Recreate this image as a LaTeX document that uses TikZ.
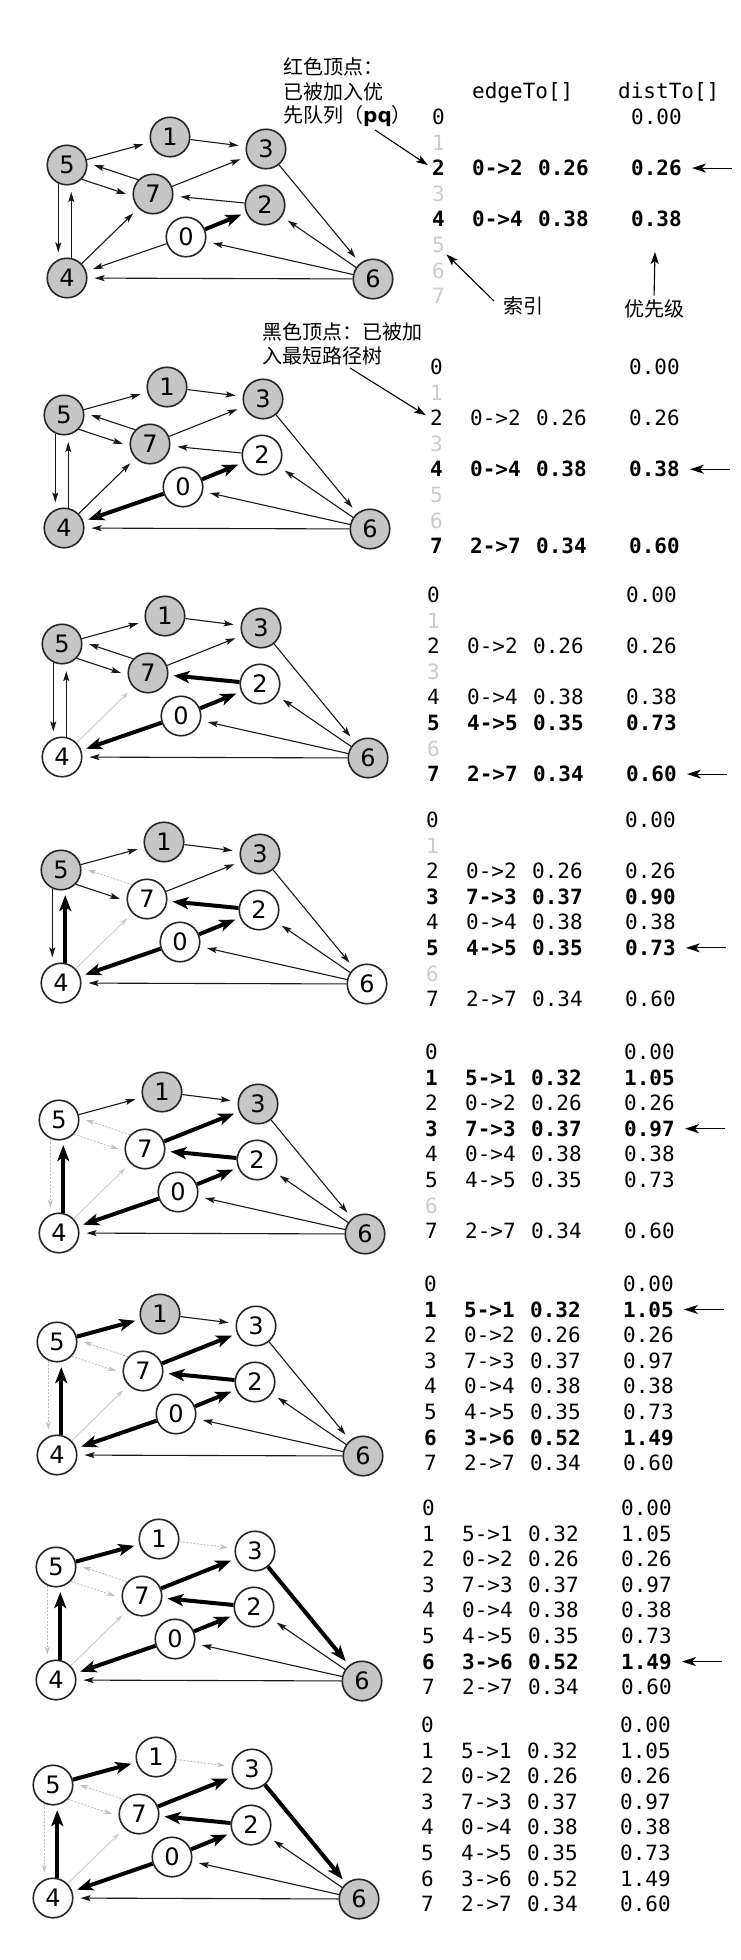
\documentclass[tikz,border=0pt]{standalone}
\usepackage{fontspec}
\setmainfont{DejaVu Sans}
\newfontfamily\monofont{DejaVu Sans Mono}
\newfontfamily\cjkfont{Noto Sans CJK SC}
\newfontfamily\labelfont{DejaVu Sans}
\usetikzlibrary{arrows.meta}

% one graph: #1 name prefix, #2/#3 centre of vertex 4
\newcommand\drawgraph[3]{%
 \begin{scope}[shift={(#2,#3)}]
  \node[vx,f0] (#1n0) at (119,-41) {0};
  \node[vx,f1] (#1n1) at (103,-141) {1};
  \node[vx,f2] (#1n2) at (198,-73) {2};
  \node[vx,f3] (#1n3) at (199,-129) {3};
  \node[vx,f4] (#1n4) at (0,0) {4};
  \node[vx,f5] (#1n5) at (0,-113) {5};
  \node[vx,f6] (#1n6) at (306,1) {6};
  \node[vx,f7] (#1n7) at (86,-84) {7};
  \draw[e51] (#1n5) -- (#1n1);
  \draw[e13] (#1n1) -- (#1n3);
  \draw[e57] (#1n5.-44) -- (#1n7.186);
  \draw[e75] (#1n7.136) -- (#1n5.6);
  \draw[e73] (#1n7) -- (#1n3);
  \draw[e27] (#1n2) -- (#1n7);
  \draw[e02] (#1n0) -- (#1n2);
  \draw[e04] (#1n0) -- (#1n4);
  \draw[e47] (#1n4) -- (#1n7);
  \draw[e54] (#1n5.-115) -- (#1n4.115);
  \draw[e45] (#1n4.78) -- (#1n5.-78);
  \draw[e36] (#1n3) -- (#1n6);
  \draw[e62] (#1n6) -- (#1n2);
  \draw[e60] (#1n6) -- (#1n0);
  \draw[e64] (#1n6) -- (#1n4);
 \end{scope}}

% table rows: #1 prefix, #2 index, #3 style, #4 edgeTo, #5 weight, #6 distTo
\newcommand\fullrow[6]{%
  \node[cell,#3] (#1i#2) at (0,#2*25.6) {#2};
  \node[cell,#3] (#1e#2) at (40,#2*25.6) {#4};
  \node[cell,#3] (#1w#2) at (106,#2*25.6) {#5};
  \node[cell,#3] (#1d#2) at (199,#2*25.6) {#6};}
\newcommand\emptyrow[2]{\node[cell,faint] (#1i#2) at (0,#2*25.6) {#2};}
\newcommand\rootrow[1]{%
  \node[cell] (#1i0) at (0,0) {0};
  \node[cell] (#1d0) at (199,0) {0.00};}
\newcommand\pick[2]{\draw[pickarrow] ([xshift=50pt]#1d#2.east) -- ([xshift=10pt]#1d#2.east);}

\begin{document}
\begin{tikzpicture}[x=1pt,y=-1pt,
  vx/.style={circle, draw=black!85, line width=1.6pt, minimum size=39.5pt, inner sep=0pt,
    font=\labelfont\fontsize{24pt}{24pt}\selectfont},
  onpq/.style={fill=gray!45},
  intree/.style={fill=white},
  norm/.style={line width=1.1pt, draw=black!90, -{Stealth[length=10pt,width=6pt,inset=2pt]},
    shorten >=7pt},
  tree/.style={line width=4pt, draw=black, -{Stealth[length=16pt,width=12pt,inset=4pt]},
    shorten >=5pt},
  faded/.style={line width=0.9pt, draw=gray!40, -{Stealth[length=8pt,width=5pt]}, shorten >=7pt},
  dim/.style={faded, draw=gray!50, dash pattern=on 2pt off 1.5pt},
  f0/.style=onpq, f1/.style=onpq, f2/.style=onpq, f3/.style=onpq,
  f4/.style=onpq, f5/.style=onpq, f6/.style=onpq, f7/.style=onpq,
  e51/.style=norm, e13/.style=norm, e57/.style=norm, e75/.style=norm, e73/.style=norm,
  e27/.style=norm, e02/.style=norm, e04/.style=norm, e47/.style=norm, e54/.style=norm,
  e45/.style=norm, e36/.style=norm, e62/.style=norm, e60/.style=norm, e64/.style=norm,
  cell/.style={anchor=base west, inner sep=0pt, font=\monofont\fontsize{21pt}{21pt}\selectfont},
  bold/.style={font=\monofont\fontsize{21pt}{21pt}\bfseries\selectfont},
  faint/.style={text=gray!40},
  pickarrow/.style={line width=1.1pt, -{Stealth[length=14pt,width=9pt,inset=4pt]}},
  note/.style={line width=1.1pt, -{Stealth[length=12pt,width=8pt,inset=3pt]}},
  cjk/.style={inner sep=0pt, font=\cjkfont\fontsize{20pt}{24pt}\selectfont}]
\useasboundingbox (0,0) rectangle (740,1960);
\fill[white] (0,0) rectangle (740,1960);

% ---------- graphs ----------
\begin{scope}[f0/.style=intree, e02/.style=tree]
 \drawgraph{a}{67}{278}
\end{scope}
\begin{scope}[f0/.style=intree, f2/.style=intree, e02/.style=tree, e04/.style=tree]
 \drawgraph{b}{64}{528}
\end{scope}
\begin{scope}[f0/.style=intree, f2/.style=intree, f4/.style=intree,
  e02/.style=tree, e04/.style=tree, e27/.style=tree, e47/.style=faded]
 \drawgraph{c}{62}{757}
\end{scope}
\begin{scope}[f0/.style=intree, f2/.style=intree, f4/.style=intree, f7/.style=intree, f6/.style=intree,
  e02/.style=tree, e04/.style=tree, e27/.style=tree, e45/.style=tree,
  e47/.style=faded, e75/.style=dim]
 \drawgraph{d}{61}{983}
\end{scope}
\begin{scope}[f0/.style=intree, f2/.style=intree, f4/.style=intree, f7/.style=intree, f5/.style=intree,
  e02/.style=tree, e04/.style=tree, e27/.style=tree, e45/.style=tree, e73/.style=tree,
  e47/.style=faded, e75/.style=dim, e57/.style=dim, e54/.style=dim]
 \drawgraph{e}{59}{1233}
\end{scope}
\begin{scope}[f0/.style=intree, f2/.style=intree, f4/.style=intree, f7/.style=intree, f5/.style=intree,
  f3/.style=intree,
  e02/.style=tree, e04/.style=tree, e27/.style=tree, e45/.style=tree, e73/.style=tree, e51/.style=tree,
  e47/.style=faded, e75/.style=dim, e57/.style=dim, e54/.style=dim]
 \drawgraph{f}{57}{1455}
\end{scope}
\begin{scope}[f0/.style=intree, f2/.style=intree, f4/.style=intree, f7/.style=intree, f5/.style=intree,
  f3/.style=intree, f1/.style=intree,
  e02/.style=tree, e04/.style=tree, e27/.style=tree, e45/.style=tree, e73/.style=tree, e51/.style=tree,
  e36/.style=tree,
  e47/.style=faded, e75/.style=dim, e57/.style=dim, e54/.style=dim, e13/.style=dim]
 \drawgraph{g}{56}{1680}
\end{scope}
\begin{scope}[f0/.style=intree, f2/.style=intree, f4/.style=intree, f7/.style=intree, f5/.style=intree,
  f3/.style=intree, f1/.style=intree,
  e02/.style=tree, e04/.style=tree, e27/.style=tree, e45/.style=tree, e73/.style=tree, e51/.style=tree,
  e36/.style=tree,
  e47/.style=faded, e75/.style=dim, e57/.style=dim, e54/.style=dim, e13/.style=dim]
 \drawgraph{h}{53}{1898}
\end{scope}

% ---------- tables ----------
\node[cell] (hdredge) at (472,98) {edgeTo[]};
\node[cell] (hdrdist) at (618,98) {distTo[]};

\begin{scope}[shift={(432,124.5)}]
 \rootrow{a}\emptyrow{a}{1}
 \fullrow{a}{2}{bold}{0->2}{0.26}{0.26}
 \emptyrow{a}{3}
 \fullrow{a}{4}{bold}{0->4}{0.38}{0.38}
 \emptyrow{a}{5}\emptyrow{a}{6}\emptyrow{a}{7}
 \pick{a}{2}
\end{scope}
\begin{scope}[shift={(430,374.5)}]
 \rootrow{b}\emptyrow{b}{1}
 \fullrow{b}{2}{}{0->2}{0.26}{0.26}
 \emptyrow{b}{3}
 \fullrow{b}{4}{bold}{0->4}{0.38}{0.38}
 \emptyrow{b}{5}\emptyrow{b}{6}
 \fullrow{b}{7}{bold}{2->7}{0.34}{0.60}
 \pick{b}{4}
\end{scope}
\begin{scope}[shift={(427,602.5)}]
 \rootrow{c}\emptyrow{c}{1}
 \fullrow{c}{2}{}{0->2}{0.26}{0.26}
 \emptyrow{c}{3}
 \fullrow{c}{4}{}{0->4}{0.38}{0.38}
 \fullrow{c}{5}{bold}{4->5}{0.35}{0.73}
 \emptyrow{c}{6}
 \fullrow{c}{7}{bold}{2->7}{0.34}{0.60}
 \pick{c}{7}
\end{scope}
\begin{scope}[shift={(426,827.5)}]
 \rootrow{d}\emptyrow{d}{1}
 \fullrow{d}{2}{}{0->2}{0.26}{0.26}
 \fullrow{d}{3}{bold}{7->3}{0.37}{0.90}
 \fullrow{d}{4}{}{0->4}{0.38}{0.38}
 \fullrow{d}{5}{bold}{4->5}{0.35}{0.73}
 \emptyrow{d}{6}
 \fullrow{d}{7}{}{2->7}{0.34}{0.60}
 \pick{d}{5}
\end{scope}
\begin{scope}[shift={(425,1059.5)}]
 \rootrow{e}
 \fullrow{e}{1}{bold}{5->1}{0.32}{1.05}
 \fullrow{e}{2}{}{0->2}{0.26}{0.26}
 \fullrow{e}{3}{bold}{7->3}{0.37}{0.97}
 \fullrow{e}{4}{}{0->4}{0.38}{0.38}
 \fullrow{e}{5}{}{4->5}{0.35}{0.73}
 \emptyrow{e}{6}
 \fullrow{e}{7}{}{2->7}{0.34}{0.60}
 \pick{e}{3}
\end{scope}
\begin{scope}[shift={(424,1291.5)}]
 \rootrow{f}
 \fullrow{f}{1}{bold}{5->1}{0.32}{1.05}
 \fullrow{f}{2}{}{0->2}{0.26}{0.26}
 \fullrow{f}{3}{}{7->3}{0.37}{0.97}
 \fullrow{f}{4}{}{0->4}{0.38}{0.38}
 \fullrow{f}{5}{}{4->5}{0.35}{0.73}
 \fullrow{f}{6}{bold}{3->6}{0.52}{1.49}
 \fullrow{f}{7}{}{2->7}{0.34}{0.60}
 \pick{f}{1}
\end{scope}
\begin{scope}[shift={(422,1515.5)}]
 \rootrow{g}
 \fullrow{g}{1}{}{5->1}{0.32}{1.05}
 \fullrow{g}{2}{}{0->2}{0.26}{0.26}
 \fullrow{g}{3}{}{7->3}{0.37}{0.97}
 \fullrow{g}{4}{}{0->4}{0.38}{0.38}
 \fullrow{g}{5}{}{4->5}{0.35}{0.73}
 \fullrow{g}{6}{bold}{3->6}{0.52}{1.49}
 \fullrow{g}{7}{}{2->7}{0.34}{0.60}
 \pick{g}{6}
\end{scope}
\begin{scope}[shift={(421,1732.5)}]
 \rootrow{h}
 \fullrow{h}{1}{}{5->1}{0.32}{1.05}
 \fullrow{h}{2}{}{0->2}{0.26}{0.26}
 \fullrow{h}{3}{}{7->3}{0.37}{0.97}
 \fullrow{h}{4}{}{0->4}{0.38}{0.38}
 \fullrow{h}{5}{}{4->5}{0.35}{0.73}
 \fullrow{h}{6}{}{3->6}{0.52}{1.49}
 \fullrow{h}{7}{}{2->7}{0.34}{0.60}
\end{scope}

% ---------- annotations ----------
\node[cjk, anchor=west] (red1) at (283,67) {红色顶点：};
\node[cjk, anchor=west] (red2) at (283,92) {已被加入优};
\node[cjk, anchor=west] (red3) at (283,116) {先队列（{\labelfont\bfseries pq}）};
\coordinate (pqtail) at (375,130);
\draw[note, shorten >=5pt] (pqtail) -- (ai2.west);

\node[cjk] (idxlabel) at (523,306) {索引};
\coordinate (idxtail) at (494,301);
\draw[note, shorten >=2pt] (idxtail) -- (ai5.south east);

\node[cjk] (prilabel) at (654,309) {优先级};
\coordinate (pritip) at (655,252);
\draw[note, shorten <=4pt] (prilabel.north) -- (pritip);

\node[cjk, anchor=west] (black1) at (262,332) {黑色顶点：已被加};
\node[cjk, anchor=west] (black2) at (262,356) {入最短路径树};
\coordinate (blacktail) at (350,368);
\draw[note, shorten >=5pt] (blacktail) -- (bi2.west);
\end{tikzpicture}
\end{document}
